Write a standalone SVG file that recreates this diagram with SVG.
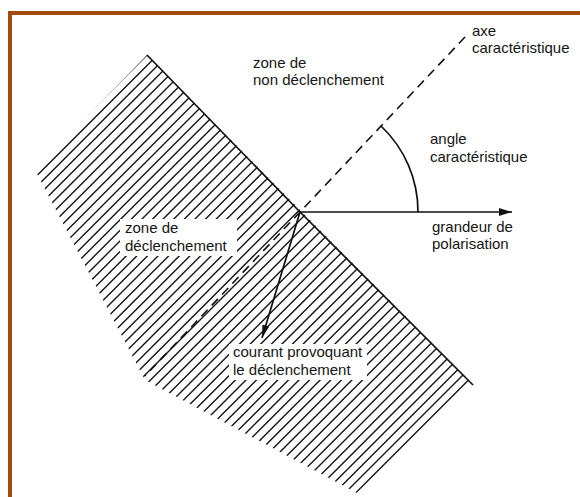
<svg xmlns="http://www.w3.org/2000/svg" width="580" height="497" viewBox="0 0 580 497">
<defs>
<style>
.t{font-family:"Liberation Sans",Arial,sans-serif;font-size:15px;fill:#151515}
.ln{stroke:#111;stroke-width:1.7;fill:none}
.dash{stroke:#111;stroke-width:1.6;fill:none;stroke-dasharray:9 6}
.hatch{stroke:#151515;stroke-width:1.4;fill:none}
.bg{fill:#fff}
</style>
<clipPath id="zone">
<polygon points="147,55 35,170 145,380 357,493 473,385"/>
</clipPath>
<marker id="arr" viewBox="0 0 13 8" markerWidth="13" markerHeight="8" refX="13" refY="4" orient="auto" markerUnits="userSpaceOnUse">
<path d="M0,0 L13,4 L0,8 z" fill="#111"/>
</marker>
<marker id="arr2" viewBox="0 0 13 7" markerWidth="13" markerHeight="7" refX="13" refY="3.5" orient="auto" markerUnits="userSpaceOnUse">
<path d="M0,0 L13,3.5 L0,7 z" fill="#111"/>
</marker>
</defs>
<rect width="580" height="497" fill="#fff"/>
<path d="M10,497 V13 H580" fill="none" stroke="#A24B0C" stroke-width="4"/>

<g id="zone-declenchement">
<path class="hatch" clip-path="url(#zone)" d="M149,53 l-200,200 m205.3,-194.7 l-200,200 m205.3,-194.7 l-200,200 m205.3,-194.7 l-200,200 m205.3,-194.7 l-200,200 m205.3,-194.7 l-200,200 m205.3,-194.7 l-200,200 m205.3,-194.7 l-200,200 m205.3,-194.7 l-200,200 m205.3,-194.7 l-200,200 m205.3,-194.7 l-200,200 m205.3,-194.7 l-200,200 m205.3,-194.7 l-200,200 m205.3,-194.7 l-200,200 m205.3,-194.7 l-200,200 m205.3,-194.7 l-200,200 m205.3,-194.7 l-200,200 m205.3,-194.7 l-200,200 m205.3,-194.7 l-200,200 m205.3,-194.7 l-200,200 m205.3,-194.7 l-200,200 m205.3,-194.7 l-200,200 m205.3,-194.7 l-200,200 m205.3,-194.7 l-200,200 m205.3,-194.7 l-200,200 m205.3,-194.7 l-200,200 m205.3,-194.7 l-200,200 m205.3,-194.7 l-200,200 m205.3,-194.7 l-200,200 m205.3,-194.7 l-200,200 m205.3,-194.7 l-200,200 m205.3,-194.7 l-200,200 m205.3,-194.7 l-200,200 m205.3,-194.7 l-200,200 m205.3,-194.7 l-200,200 m205.3,-194.7 l-200,200 m205.3,-194.7 l-200,200 m205.3,-194.7 l-200,200 m205.3,-194.7 l-200,200 m205.3,-194.7 l-200,200 m205.3,-194.7 l-200,200 m205.3,-194.7 l-200,200 m205.3,-194.7 l-200,200 m205.3,-194.7 l-200,200 m205.3,-194.7 l-200,200 m205.3,-194.7 l-200,200 m205.3,-194.7 l-200,200 m205.3,-194.7 l-200,200 m205.3,-194.7 l-200,200 m205.3,-194.7 l-200,200 m205.3,-194.7 l-200,200 m205.3,-194.7 l-200,200 m205.3,-194.7 l-200,200 m205.3,-194.7 l-200,200 m205.3,-194.7 l-200,200 m205.3,-194.7 l-200,200 m205.3,-194.7 l-200,200 m205.3,-194.7 l-200,200 m205.3,-194.7 l-200,200 m205.3,-194.7 l-200,200 m205.3,-194.7 l-200,200 m205.3,-194.7 l-200,200 m205.3,-194.7 l-200,200"/>
<polyline class="ln" points="147,55 300,212 473,385"/>
</g>

<g id="connectors">
<path id="axe" class="dash" d="M465,37 L300,212 L145,376"/>
<line id="polarisation" class="ln" x1="300" y1="212" x2="512" y2="212" marker-end="url(#arr)"/>
<path id="angle-arc" class="ln" d="M381,126 A118,118 0 0 1 418,212"/>
<line id="courant" class="ln" x1="300" y1="212" x2="262" y2="338" marker-end="url(#arr2)"/>
</g>

<g id="label-axe">
<text class="t" x="472" y="36">axe</text>
<text class="t" x="472" y="53">caractéristique</text>
</g>
<g id="label-non-declenchement">
<text class="t" x="253" y="68">zone de</text>
<text class="t" x="253" y="85">non déclenchement</text>
</g>
<g id="label-angle">
<text class="t" x="430" y="144">angle</text>
<text class="t" x="430" y="162">caractéristique</text>
</g>
<g id="label-grandeur">
<text class="t" x="432" y="232">grandeur de</text>
<text class="t" x="432" y="249">polarisation</text>
</g>
<g id="label-declenchement">
<rect class="bg" x="120" y="219" width="117" height="37"/>
<text class="t" x="125" y="233">zone de</text>
<text class="t" x="125" y="251">déclenchement</text>
</g>
<g id="label-courant">
<rect class="bg" x="229" y="344" width="138" height="36"/>
<text class="t" x="233" y="357">courant provoquant</text>
<text class="t" x="233" y="375">le déclenchement</text>
</g>
</svg>
